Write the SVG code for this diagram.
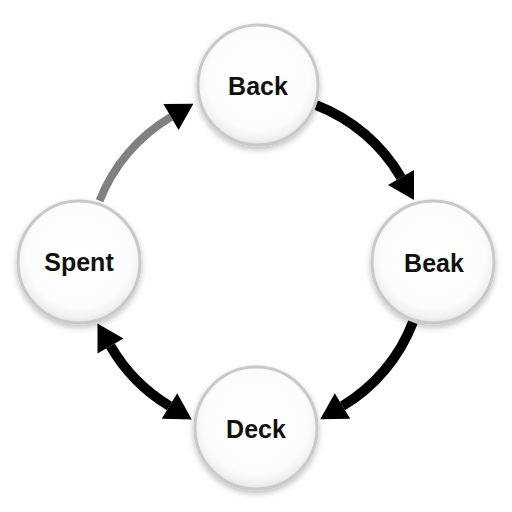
<svg xmlns="http://www.w3.org/2000/svg" width="512" height="512" viewBox="0 0 512 512">
  <style>
    .node-circle { fill: url(#nodeFill); stroke: #c9c9c9; stroke-width: 3; filter: url(#shadow); }
    .label { font-family: "Liberation Sans", Arial, sans-serif; font-weight: bold; font-size: 25px; fill: #111; text-anchor: middle; }
    .conn { fill: none; stroke: #000; stroke-width: 10; }
    .conn-gray { fill: none; stroke: #808080; stroke-width: 8; }
  </style>
  <defs>
    <radialGradient id="nodeFill" cx="50%" cy="45%" r="55%">
      <stop offset="0%" stop-color="#ffffff"/>
      <stop offset="78%" stop-color="#fcfcfc"/>
      <stop offset="92%" stop-color="#f1f1f1"/>
      <stop offset="100%" stop-color="#e2e2e2"/>
    </radialGradient>
    <filter id="shadow" x="-20%" y="-20%" width="140%" height="150%">
      <feGaussianBlur in="SourceAlpha" stdDeviation="3"/>
      <feOffset dx="0" dy="3" result="b"/>
      <feComponentTransfer><feFuncA type="linear" slope="0.25"/></feComponentTransfer>
      <feMerge><feMergeNode/><feMergeNode in="SourceGraphic"/></feMerge>
    </filter>
    <marker id="head" markerUnits="userSpaceOnUse" markerWidth="30" markerHeight="32" viewBox="0 -16 28 32" refX="0" refY="0" orient="auto-start-reverse">
      <path d="M0,-15 L26,0 L0,15 Z" fill="#000"/>
    </marker>
  </defs>
  <rect width="512" height="512" fill="#ffffff"/>

  <g id="connectors">
    <path class="conn-gray" d="M99.6,200.7 A168,168 0 0 1 171,117" marker-end="url(#head)"/>
    <path class="conn" d="M316.2,105.1 A168,168 0 0 1 401,177.5" marker-end="url(#head)"/>
    <path class="conn" d="M412.9,322.2 A168,168 0 0 1 342.5,406" marker-end="url(#head)"/>
    <path class="conn" d="M110.5,346 A168,168 0 0 0 169.5,406" marker-start="url(#head)" marker-end="url(#head)"/>
  </g>

  <g id="node-back">
    <circle class="node-circle" cx="258" cy="85" r="60"/>
    <text class="label" x="258" y="95">Back</text>
  </g>
  <g id="node-beak">
    <circle class="node-circle" cx="433" cy="262" r="61"/>
    <text class="label" x="434" y="272">Beak</text>
  </g>
  <g id="node-deck">
    <circle class="node-circle" cx="256" cy="428" r="61"/>
    <text class="label" x="256" y="438">Deck</text>
  </g>
  <g id="node-spent">
    <circle class="node-circle" cx="79" cy="262" r="61"/>
    <text class="label" x="79" y="271">Spent</text>
  </g>
</svg>
